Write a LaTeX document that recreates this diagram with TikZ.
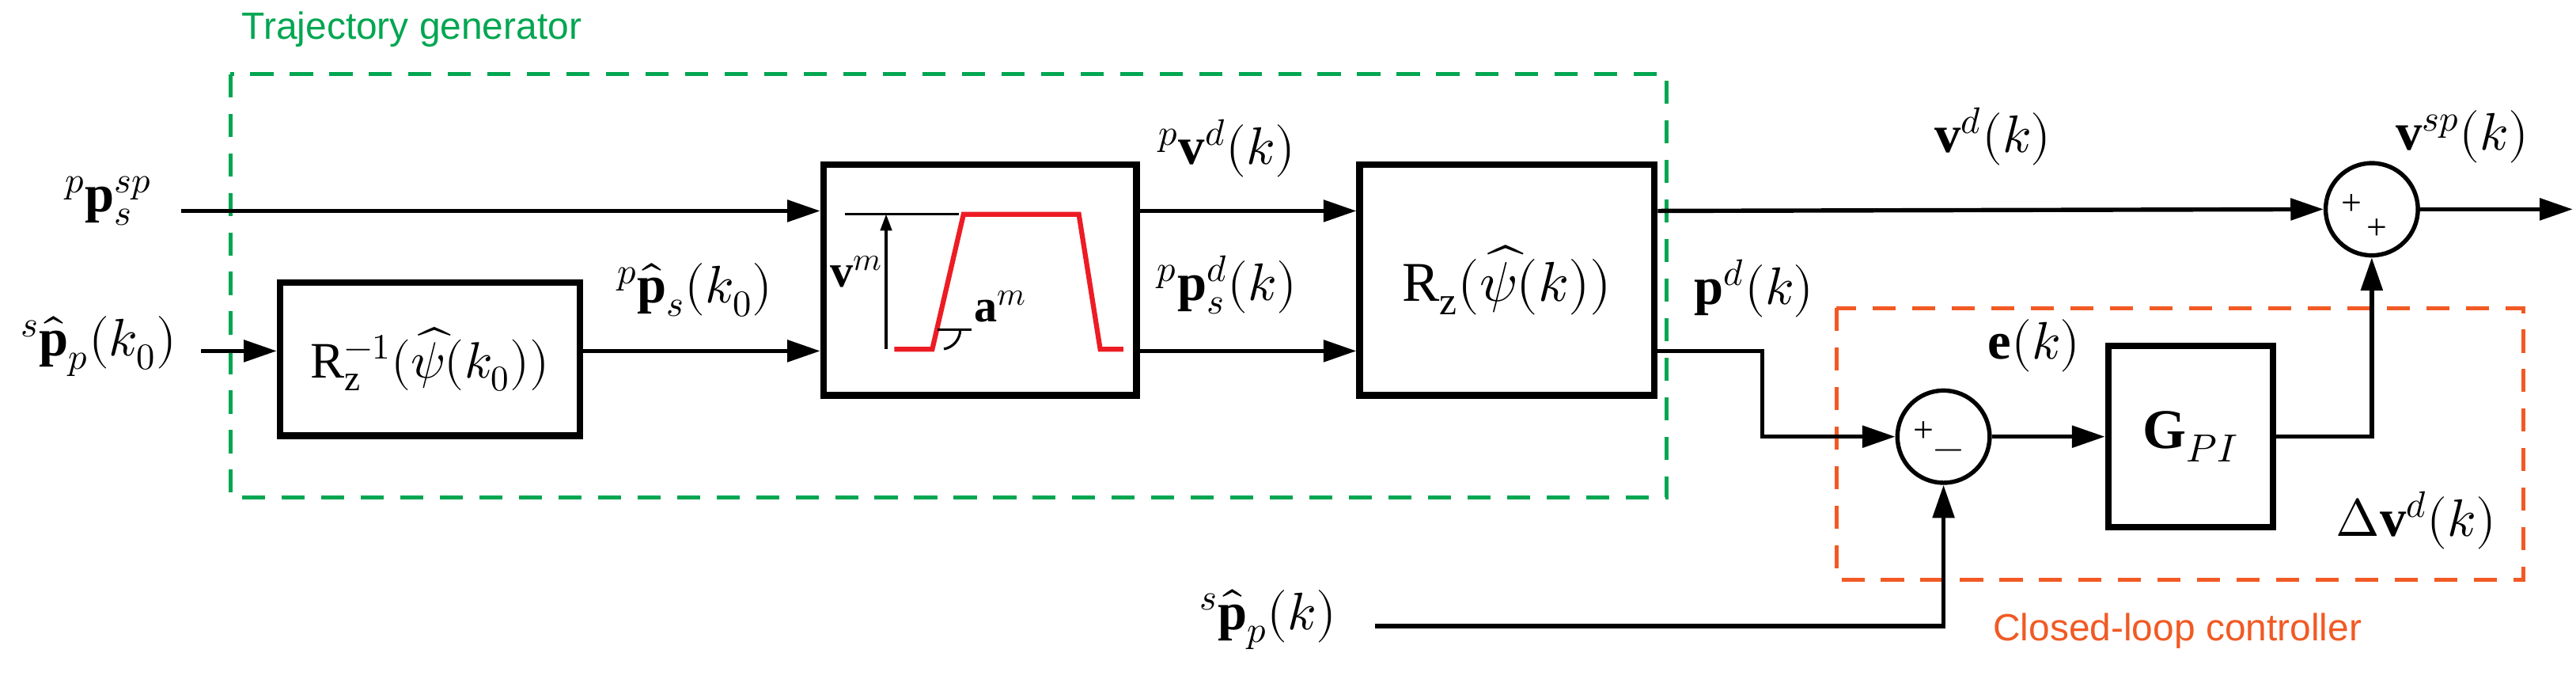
\documentclass[tikz,border=0pt]{standalone}
\usepackage{amsmath}
\usepackage{unicode-math}
\setmainfont{Liberation Serif}
\setmathfont{Latin Modern Math}
\newfontfamily\lab{Liberation Sans}
\usetikzlibrary{arrows.meta}
\definecolor{tgreen}{RGB}{0,166,81}
\definecolor{torange}{RGB}{241,90,36}
\definecolor{tred}{RGB}{237,28,36}
\begin{document}
\begin{tikzpicture}[x=1pt,y=-1pt,
  sig/.style={line width=2.6pt,-{Triangle[length=20pt,width=13pt]}},
  blk/.style={draw,line width=4pt,inner sep=0pt},
  sm/.style={draw,circle,line width=2.6pt,minimum size=56pt,inner sep=0pt},
  lbl/.style={font=\fontsize{32}{38}\selectfont},
  grp/.style={line width=2.5pt,dash pattern=on 14pt off 10pt}]
\useasboundingbox (0,0) rectangle (1564,419);
% groups
\draw[grp,tgreen] (140,45) rectangle (1012,302);
\node[tgreen,font=\lab\fontsize{23}{28}\selectfont] (tg) at (250,18) {Trajectory generator};
\draw[grp,torange] (1115,187) rectangle (1532,352);
\node[torange,font=\lab\fontsize{23}{28}\selectfont] (cl) at (1322,383) {Closed-loop controller};
% blocks
\node[blk,minimum width=182pt,minimum height=93pt,font=\fontsize{31}{36}\selectfont] (rinv) at (261,218) {$\mathrm{R}_{\mathrm{z}}^{-1}(\widehat{\psi}(k_0))$};
\node[blk,minimum width=190pt,minimum height=140pt] (traj) at (595,170) {};
\node[blk,minimum width=179pt,minimum height=140pt,font=\fontsize{34}{40}\selectfont] (rz) at (915,170) {$\mathrm{R}_{\mathrm{z}}(\widehat{\psi}(k))$};
\node[blk,minimum width=100pt,minimum height=110pt,font=\fontsize{34}{40}\selectfont] (g) at (1330,265) {$\mathbf{G}_{PI}$};
\node[sm] (s1) at (1440,127) {};
\node[sm] (s2) at (1180,265) {};
\node[font=\fontsize{22}{22}\selectfont] (s1a) at (1428,124) {+};
\node[font=\fontsize{22}{22}\selectfont] (s1b) at (1443,139) {+};
\node[font=\fontsize{22}{22}\selectfont] (s2a) at (1168,262) {+};
\node[font=\fontsize{24}{22}\selectfont] (s2b) at (1183,276) {$-$};
% inside trajectory block
\draw[tred,line width=3pt] (543,212) -- (566,212) -- (585,130) -- (655,130) -- (668,212) -- (682,212);
\draw[line width=1.5pt] (513,130) -- (582,130);
\draw[line width=1.5pt,{Triangle[length=10pt,width=7pt]}-] (538,130) -- (538,212);
\draw[line width=1.5pt] (569,200) -- (590,200);
\draw[line width=1.5pt] (583,200) arc (0:80:12);
\node[anchor=east,inner sep=1pt,font=\fontsize{28}{32}\selectfont] (vm) at (537,165) {$\mathbf{v}^m$};
\node[anchor=west,font=\fontsize{28}{32}\selectfont] (am) at (588,186) {$\mathbf{a}^m$};
% coordinates
\coordinate (in1) at (110,128);
\coordinate (in2) at (122,213);
\coordinate (in3) at (835,380);
\coordinate (out) at (1562,127);
% signals
\draw[sig] (in1) -- (traj.west |- in1);
\draw[sig] (in2) -- (rinv.west |- in2);
\draw[sig] (rinv.east |- in2) -- (traj.west |- in2);
\draw[sig] (traj.east |- in1) -- (rz.west |- in1);
\draw[sig] (traj.east |- in2) -- (rz.west |- in2);
\draw[sig] (rz.east |- in1) -- (s1.west);
\draw[sig] (s1.east) -- (out);
\draw[sig] (rz.east |- in2) -- (1070,213) -- (1070,265) -- (s2.west);
\draw[sig] (s2.east) -- (g.west);
\draw[sig] (g.east) -- (1440,265) -- (s1.south);
\draw[sig] (in3) -- (1180,380) -- (s2.south);
% labels
\node[lbl] (l1) at (66,122) {${}^{p}\mathbf{p}_{s}^{sp}$};
\node[lbl] (l2) at (60,210) {${}^{s}\widehat{\mathbf{p}}_{p}(k_0)$};
\node[lbl] (l3) at (422,176) {${}^{p}\widehat{\mathbf{p}}_{s}(k_0)$};
\node[lbl] (l4) at (745,90) {${}^{p}\mathbf{v}^{d}(k)$};
\node[lbl] (l5) at (745,173) {${}^{p}\mathbf{p}_{s}^{d}(k)$};
\node[lbl] (l6) at (1210,83) {$\mathbf{v}^{d}(k)$};
\node[lbl] (l7) at (1495,83) {$\mathbf{v}^{sp}(k)$};
\node[lbl] (l8) at (1065,175) {$\mathbf{p}^{d}(k)$};
\node[lbl] (l9) at (1235,210) {$\mathbf{e}(k)$};
\node[lbl] (l10) at (1467,316) {$\Delta\mathbf{v}^{d}(k)$};
\node[lbl] (l11) at (770,376) {${}^{s}\widehat{\mathbf{p}}_{p}(k)$};
\end{tikzpicture}
\end{document}
